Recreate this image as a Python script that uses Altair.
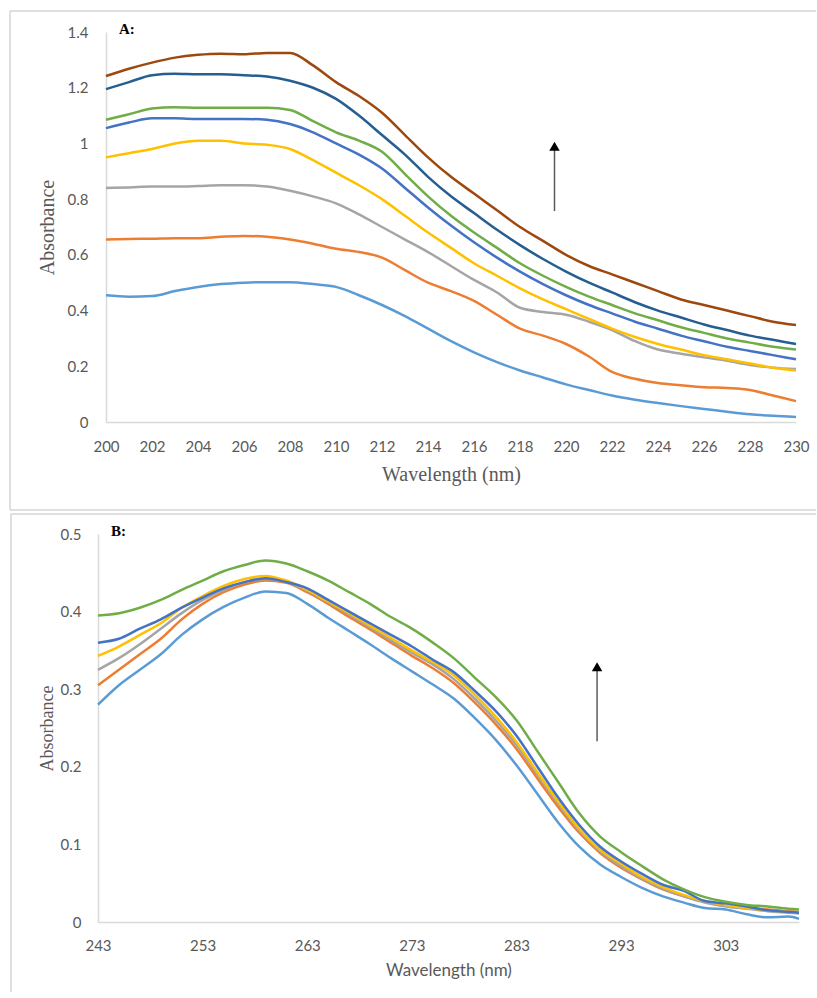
import altair as alt
import pandas as pd

# ---------------- Panel A data (wavelength 200-230 nm) ----------------
A_WAVELENGTH = list(range(200, 231))
A_S1 = [0.455, 0.450, 0.452, 0.470, 0.485, 0.495, 0.500, 0.502, 0.502, 0.495, 0.485,
        0.455, 0.420, 0.380, 0.335, 0.290, 0.250, 0.215, 0.185, 0.160, 0.135,
        0.115, 0.095, 0.080, 0.068, 0.057, 0.047, 0.037, 0.028, 0.022, 0.018]
A_S2 = [0.655, 0.657, 0.658, 0.660, 0.660, 0.665, 0.668, 0.665, 0.655, 0.640, 0.622,
        0.610, 0.590, 0.545, 0.500, 0.470, 0.435, 0.385, 0.335, 0.310, 0.280,
        0.235, 0.180, 0.155, 0.140, 0.132, 0.125, 0.122, 0.115, 0.095, 0.075]
A_S3 = [0.840, 0.842, 0.845, 0.845, 0.847, 0.850, 0.850, 0.845, 0.830, 0.810, 0.785,
        0.745, 0.700, 0.655, 0.610, 0.560, 0.510, 0.465, 0.410, 0.395, 0.385,
        0.360, 0.330, 0.290, 0.260, 0.245, 0.232, 0.220, 0.205, 0.195, 0.190]
A_S4 = [0.950, 0.965, 0.980, 1.000, 1.010, 1.010, 1.000, 0.995, 0.980, 0.940, 0.895,
        0.850, 0.800, 0.740, 0.680, 0.625, 0.570, 0.525, 0.480, 0.440, 0.405,
        0.370, 0.335, 0.305, 0.280, 0.260, 0.240, 0.225, 0.210, 0.195, 0.185]
A_S5 = [1.055, 1.075, 1.090, 1.090, 1.088, 1.088, 1.088, 1.085, 1.070, 1.040, 1.000,
        0.960, 0.910, 0.840, 0.770, 0.705, 0.645, 0.590, 0.540, 0.495, 0.455,
        0.420, 0.390, 0.360, 0.335, 0.310, 0.290, 0.270, 0.255, 0.240, 0.225]
A_S6 = [1.085, 1.105, 1.125, 1.130, 1.128, 1.128, 1.128, 1.128, 1.120, 1.080, 1.040,
        1.010, 0.970, 0.890, 0.810, 0.740, 0.680, 0.625, 0.570, 0.525, 0.485,
        0.450, 0.420, 0.390, 0.365, 0.340, 0.320, 0.300, 0.285, 0.270, 0.260]
A_S7 = [1.195, 1.220, 1.245, 1.250, 1.248, 1.248, 1.245, 1.240, 1.225, 1.200, 1.160,
        1.100, 1.030, 0.960, 0.880, 0.810, 0.750, 0.690, 0.635, 0.585, 0.540,
        0.500, 0.465, 0.430, 0.400, 0.375, 0.350, 0.330, 0.310, 0.295, 0.280]
A_S8 = [1.242, 1.268, 1.290, 1.308, 1.318, 1.322, 1.320, 1.325, 1.325, 1.280, 1.220,
        1.170, 1.110, 1.030, 0.950, 0.880, 0.820, 0.760, 0.700, 0.650, 0.600,
        0.560, 0.530, 0.500, 0.470, 0.440, 0.420, 0.400, 0.380, 0.360, 0.348]

# ---------------- Panel B data (wavelength 243-310 nm) ----------------
B_WAVELENGTH = list(range(243, 310, 2)) + [310]
B_S1 = [0.280, 0.305, 0.325, 0.345, 0.370, 0.390, 0.406, 0.418, 0.426, 0.424, 0.410,
        0.392, 0.375, 0.358, 0.340, 0.323, 0.306, 0.288, 0.263, 0.235, 0.202,
        0.165, 0.128, 0.097, 0.074, 0.058, 0.044, 0.033, 0.025, 0.018, 0.016,
        0.010, 0.006, 0.007, 0.004]
B_S2 = [0.305, 0.325, 0.345, 0.365, 0.390, 0.410, 0.425, 0.435, 0.440, 0.437, 0.425,
        0.410, 0.393, 0.377, 0.360, 0.343, 0.327, 0.308, 0.283, 0.255, 0.223,
        0.185, 0.148, 0.115, 0.089, 0.070, 0.055, 0.042, 0.033, 0.026, 0.022,
        0.019, 0.016, 0.014, 0.013]
B_S3 = [0.325, 0.340, 0.358, 0.378, 0.398, 0.415, 0.428, 0.438, 0.442, 0.438, 0.427,
        0.412, 0.396, 0.380, 0.363, 0.347, 0.332, 0.313, 0.288, 0.260, 0.228,
        0.190, 0.152, 0.118, 0.091, 0.072, 0.056, 0.043, 0.033, 0.025, 0.020,
        0.017, 0.014, 0.012, 0.011]
B_S4 = [0.343, 0.355, 0.370, 0.385, 0.405, 0.420, 0.433, 0.442, 0.446, 0.440, 0.428,
        0.413, 0.398, 0.382, 0.366, 0.350, 0.335, 0.318, 0.293, 0.265, 0.232,
        0.193, 0.155, 0.120, 0.093, 0.075, 0.058, 0.045, 0.035, 0.027, 0.022,
        0.018, 0.015, 0.013, 0.012]
B_S5 = [0.360, 0.365, 0.378, 0.390, 0.405, 0.418, 0.430, 0.438, 0.443, 0.438, 0.430,
        0.415, 0.400, 0.385, 0.370, 0.355, 0.338, 0.322, 0.298, 0.272, 0.240,
        0.200, 0.160, 0.125, 0.097, 0.078, 0.062, 0.048, 0.040, 0.027, 0.024,
        0.020, 0.015, 0.013, 0.012]
B_S6 = [0.395, 0.398, 0.405, 0.415, 0.428, 0.440, 0.452, 0.460, 0.466, 0.462, 0.452,
        0.440, 0.425, 0.410, 0.393, 0.378, 0.360, 0.340, 0.315, 0.290, 0.260,
        0.220, 0.180, 0.140, 0.110, 0.090, 0.072, 0.055, 0.042, 0.032, 0.026,
        0.022, 0.020, 0.017, 0.016]

SERIES_NAMES = ["S1", "S2", "S3", "S4", "S5", "S6", "S7", "S8"]
SERIES_COLORS = ["#5B9BD5", "#ED7D31", "#A5A5A5", "#FFC000",
                 "#4472C4", "#70AD47", "#255E91", "#9E480E"]

A_X_TICKS = list(range(200, 231, 2))
A_Y_TICKS = [0, 0.2, 0.4, 0.6, 0.8, 1.0, 1.2, 1.4]
B_X_TICKS = [243, 253, 263, 273, 283, 293, 303]
B_Y_TICKS = [0, 0.1, 0.2, 0.3, 0.4, 0.5]

# arrow annotations (data coordinates)
A_ARROW = {"wl": 219.5, "y0": 0.757, "y1": 0.99}
B_ARROW = {"wl": 290.7, "y0": 0.233, "y1": 0.329}


def long_frame(wl, series):
    rows = []
    for name, vals in zip(SERIES_NAMES, series):
        for w, v in zip(wl, vals):
            rows.append({"wl": w, "abs": v, "series": name})
    return pd.DataFrame(rows)


dfA = long_frame(A_WAVELENGTH, [A_S1, A_S2, A_S3, A_S4, A_S5, A_S6, A_S7, A_S8])
dfB = long_frame(B_WAVELENGTH, [B_S1, B_S2, B_S3, B_S4, B_S5, B_S6])

LABEL_FONT = "Lato"
SERIF = "Liberation Serif"
GRAY = "#595959"
AXIS_LINE = "#d9d9d9"
BORDER = "#d4d4d4"
one = pd.DataFrame({"k": [0]})


def panel(df, xdom, ydom, xticks, yticks, arrow, tag, w, h, shift,
          border, xtitle_font, xtitle_size, ytitle_size, xlabpad, ylabpad,
          xtitlepad, ytitlepad, names):
    x_axis = alt.Axis(values=xticks, title="Wavelength (nm)", grid=False, ticks=False,
                      tickSize=0, domainColor=AXIS_LINE, domainWidth=1.5,
                      labelFont=LABEL_FONT, labelFontSize=15, labelColor=GRAY,
                      labelPadding=xlabpad, labelFlush=False,
                      titleFont=xtitle_font, titleFontSize=xtitle_size,
                      titleColor=GRAY, titleFontWeight="normal", titlePadding=xtitlepad)
    y_kw = dict(values=yticks, title="Absorbance", grid=False, ticks=False,
                tickSize=0, domainColor=AXIS_LINE, domainWidth=1.5,
                labelFont=LABEL_FONT, labelFontSize=15, labelColor=GRAY,
                labelPadding=ylabpad, format="~g",
                titleFont=SERIF, titleFontSize=ytitle_size,
                titleColor=GRAY, titleFontWeight="normal", titlePadding=ytitlepad)
    if shift:
        y_kw["offset"] = shift
        xs = alt.Scale(domain=xdom, nice=False, zero=False, range=[-shift, w])
    else:
        xs = alt.Scale(domain=xdom, nice=False, zero=False)
    y_axis = alt.Axis(**y_kw)
    ys = alt.Scale(domain=ydom, nice=False)

    lines = alt.Chart(df).mark_line(strokeWidth=2.5, interpolate="monotone").encode(
        x=alt.X("wl:Q", scale=xs, axis=x_axis),
        y=alt.Y("abs:Q", scale=ys, axis=y_axis),
        color=alt.Color("series:N",
                        scale=alt.Scale(domain=names,
                                        range=SERIES_COLORS[:len(names)]),
                        legend=None),
    )

    adf = pd.DataFrame([arrow])
    shaft = alt.Chart(adf).mark_rule(color="#5a5a5a", strokeWidth=1.5).encode(
        x=alt.X("wl:Q", scale=xs), y=alt.Y("y0:Q", scale=ys), y2="y1:Q")
    head = alt.Chart(adf).mark_point(shape="triangle-up", filled=True, color="black",
                                     size=110, opacity=1).encode(
        x=alt.X("wl:Q", scale=xs), y=alt.Y("y1:Q", scale=ys))

    label = alt.Chart(one).mark_text(text=tag, font=SERIF, fontWeight="bold",
                                     fontSize=15, color="black", align="left",
                                     baseline="middle").encode(
        x=alt.value(13 - shift), y=alt.value(-3))

    left, top, bottom, right = border
    parts = [lines, shaft, head, label]
    parts.append(alt.Chart(one).mark_rule(color=BORDER, strokeWidth=1.5).encode(
        x=alt.value(left), x2=alt.value(right), y=alt.value(top)))
    parts.append(alt.Chart(one).mark_rule(color=BORDER, strokeWidth=1.5).encode(
        x=alt.value(left), y=alt.value(top),
        y2=alt.value(bottom if bottom is not None else h + 70)))
    if bottom is not None:
        parts.append(alt.Chart(one).mark_rule(color=BORDER, strokeWidth=1.5).encode(
            x=alt.value(left), x2=alt.value(right), y=alt.value(bottom)))
    return alt.layer(*parts).properties(width=w, height=h)


chartA = panel(dfA, [200, 230], [0, 1.4], A_X_TICKS, A_Y_TICKS, A_ARROW, "A:",
               690, 390, 0, (-96, -21, 478, 710), SERIF, 20, 20, 17, 18, 10, 10,
               SERIES_NAMES)
chartB = panel(dfB, [243, 310], [0, 0.5], B_X_TICKS, B_Y_TICKS, B_ARROW, "B:",
               693, 388, 8, (-95, -20, None, 710), LABEL_FONT, 17, 18, 16, 17, 9, 4,
               SERIES_NAMES[:6])

chart = alt.vconcat(chartA, chartB, spacing=2).properties(
    padding={"left": 9, "top": 10, "right": 0, "bottom": 0},
    background="white",
).configure_view(stroke=None)

chart.save("out.html", embed_options={"renderer": "svg", "actions": False})
